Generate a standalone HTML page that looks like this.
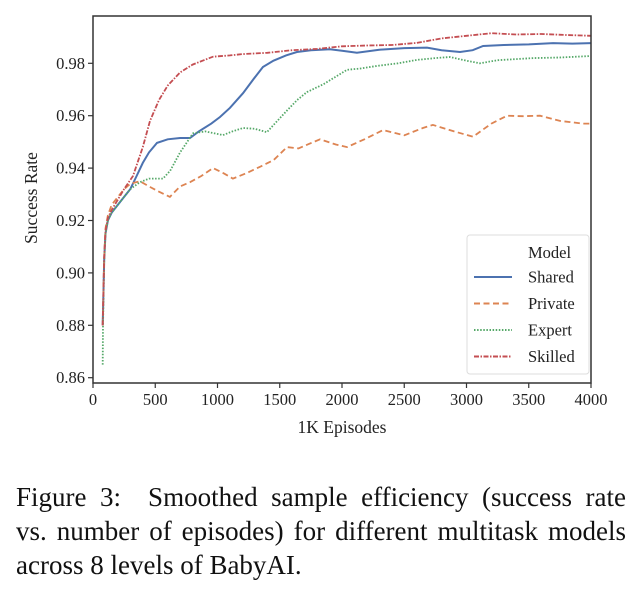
<!DOCTYPE html>
<html><head><meta charset="utf-8"><style>
body{margin:0;background:#fff;width:634px;height:589px;overflow:hidden;font-family:"Liberation Serif",serif;}
#cap{position:absolute;left:16px;top:480px;width:610px;font-size:27px;line-height:34px;color:#111;}
#cap div{white-space:nowrap;}
#cap .j{text-align:justify;text-align-last:justify;white-space:normal;}
</style></head><body>
<svg id="chart" width="634" height="470" style="position:absolute;left:0;top:0" font-family="Liberation Serif, serif"></svg>
<div id="cap"><div class="j">Figure 3:&nbsp; Smoothed sample efficiency (success rate</div><div class="j">vs. number of episodes) for different multitask models</div><div>across 8 levels of BabyAI.</div></div>
<script>
const xTicks=[0,500,1000,1500,2000,2500,3000,3500,4000];
const yTicks=[0.86,0.88,0.90,0.92,0.94,0.96,0.98];
const seriesNames=["Shared","Private","Expert","Skilled"];
const sharedX=[78,90,100,120,150,200,250,300,350,400,450,514,600,700,779,850,950,1020,1100,1205,1290,1365,1450,1550,1638,1750,1904,2000,2120,2300,2500,2683,2800,2948,3050,3133,3300,3500,3695,3850,4000];
const sharedY=[0.880,0.905,0.915,0.920,0.923,0.926,0.929,0.932,0.937,0.942,0.946,0.9496,0.951,0.9515,0.9515,0.954,0.957,0.9595,0.963,0.9686,0.974,0.9786,0.981,0.983,0.9843,0.985,0.9854,0.9848,0.984,0.9852,0.9858,0.986,0.985,0.9843,0.985,0.9866,0.987,0.9872,0.9877,0.9875,0.9877];
const privateX=[78,90,100,120,150,200,250,300,377,450,530,618,700,779,870,964,1050,1124,1230,1341,1450,1558,1650,1823,1950,2040,2180,2329,2500,2650,2730,2900,3052,3200,3325,3450,3590,3750,3935,4000];
const privateY=[0.880,0.906,0.917,0.922,0.926,0.929,0.932,0.934,0.935,0.933,0.931,0.929,0.933,0.9346,0.937,0.940,0.938,0.936,0.938,0.9405,0.943,0.948,0.9475,0.951,0.949,0.948,0.951,0.9545,0.9525,0.9553,0.9565,0.954,0.952,0.957,0.960,0.9598,0.960,0.958,0.957,0.957];
const expertX=[78,80,90,100,120,150,200,250,300,377,450,562,620,700,803,900,1044,1120,1205,1300,1397,1460,1558,1640,1718,1850,2040,2150,2281,2450,2602,2750,2867,3000,3108,3250,3534,3750,4000];
const expertY=[0.865,0.880,0.905,0.915,0.920,0.923,0.926,0.929,0.932,0.9346,0.936,0.936,0.939,0.946,0.9533,0.954,0.9526,0.954,0.9553,0.955,0.9537,0.957,0.962,0.966,0.969,0.972,0.9775,0.978,0.979,0.980,0.9813,0.982,0.9824,0.981,0.980,0.9812,0.982,0.9822,0.9828];
const skilledX=[78,90,100,120,150,200,250,321,400,458,530,600,699,800,880,964,1100,1200,1400,1600,1800,2000,2200,2400,2600,2800,3000,3200,3400,3600,3800,4000];
const skilledY=[0.880,0.906,0.916,0.921,0.924,0.928,0.932,0.937,0.948,0.958,0.966,0.9715,0.9765,0.9795,0.981,0.9825,0.983,0.9835,0.984,0.985,0.9855,0.9865,0.9868,0.987,0.9878,0.9895,0.9905,0.9915,0.991,0.9912,0.9908,0.9905];
const seriesX=[sharedX,privateX,expertX,skilledX];
const seriesY=[sharedY,privateY,expertY,skilledY];
const colors=["#4c72b0","#dd8452","#55a868","#c44e52"];
const dashes=["","6,3.5","1.5,1.6","5,1.5,1.5,1.5"];
const svg=document.getElementById('chart');
const NS="http://www.w3.org/2000/svg";
const L=93,R=591,T=16,B=383;
function xs(v){return L+(v/4000)*(R-L);}
function ys(v){return 63.3+(0.98-v)/0.02*52.4;}
function mk(tag,attrs){const e=document.createElementNS(NS,tag);for(const k in attrs)e.setAttribute(k,attrs[k]);svg.appendChild(e);return e;}
seriesNames.forEach((n,i)=>{
  const d=seriesX[i].map((x,j)=>(j?'L':'M')+xs(x).toFixed(1)+','+ys(seriesY[i][j]).toFixed(1)).join('');
  const p=mk('path',{d:d,fill:'none',stroke:colors[i],'stroke-width':i==0?2:1.8,'stroke-dasharray':dashes[i]});
  
  
});
const frame=mk('rect',{x:L,y:T,width:R-L,height:B-T,fill:'none',stroke:'#333','stroke-width':1.5});


xTicks.forEach(v=>{
  mk('line',{x1:xs(v),x2:xs(v),y1:B,y2:B+5,stroke:'#333','stroke-width':1.2});
  const t=mk('text',{x:xs(v),y:B+22,'font-size':16.5,'text-anchor':'middle',fill:'#222'});
  t.textContent=v;
  
  
});
yTicks.forEach(v=>{
  mk('line',{x1:L-5,x2:L,y1:ys(v),y2:ys(v),stroke:'#333','stroke-width':1.2});
  const t=mk('text',{x:L-8,y:ys(v)+5.5,'font-size':16.5,'text-anchor':'end',fill:'#222'});
  t.textContent=v.toFixed(2);
  
  
});
const xt=mk('text',{x:342,y:433,'font-size':17.5,'text-anchor':'middle',fill:'#222'});
xt.textContent='1K Episodes';


const yt=mk('text',{x:0,y:0,'font-size':17.5,'text-anchor':'middle',fill:'#222',transform:'translate(37,198) rotate(-90)'});
yt.textContent='Success Rate';


const lg=mk('rect',{x:467,y:235,width:122,height:139,rx:3,fill:'#fff',stroke:'#ddd','stroke-width':1});


const lt=mk('text',{x:528,y:258,'font-size':16.5,fill:'#222'});
lt.textContent='Model';


seriesNames.forEach((n,i)=>{
  const y=277+i*26.5;
  mk('line',{x1:474,x2:512,y1:y,y2:y,stroke:colors[i],'stroke-width':2,'stroke-dasharray':dashes[i]});
  const t=mk('text',{x:528,y:y+5.5,'font-size':16.5,fill:'#222'});
  t.textContent=n;
  
  
});
</script>
</body></html>
